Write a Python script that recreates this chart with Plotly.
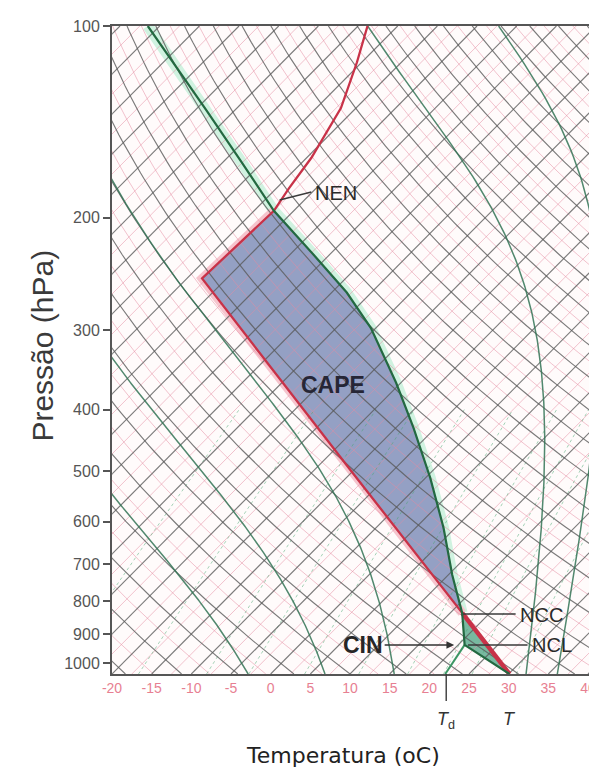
import numpy as np
import plotly.graph_objects as go

# ---------------- data ----------------
P_BOTTOM = 1040.0
P_TOP = 100.0
SKEW = 79.65  # degC per decade of pressure (45 degree isotherms)

x_tick_vals = [-20, -15, -10, -5, 0, 5, 10, 15, 20, 25, 30, 35, 40]
x_tick_text = ["-20", "-15", "-10", "-5", "0", "5", "10", "15", "20", "25", "30", "35", "40"]
y_tick_vals = [100, 200, 300, 400, 500, 600, 700, 800, 900, 1000]
y_tick_text = ["100", "200", "300", "400", "500", "600", "700", "800", "900", "1000"]

# environmental temperature profile
env_p = [1040, 834, 498, 249, 195, 180, 161, 134.5, 114, 100]
env_T = [30.1, 16.5, -15.4, -58.1, -57.5, -58.4, -59.4, -61.9, -65.6, -68.8]

# lifted parcel path (surface -> NCL -> NCC -> NEN -> top)
parcel_p = [1040, 936, 834, 727, 613, 512, 427, 363, 298, 262, 231, 209, 195, 164, 136, 100]
parcel_T = [30.1, 20.8, 16.5, 10.5, 3.5, -4.4, -12.8, -20.6, -30.6, -38.1, -46.3, -52.9, -57.5, -67.5, -78.4, -96.5]

surface_Td = 22.0
surface_T = 30.0

# reference lines of the diagram
isotherm_major = list(range(-110, 45, 5))
isotherm_minor = [t + 2.5 for t in range(-110, 45, 5)]
theta_major = list(range(238, 470, 7))
theta_minor = [t + 3.5 for t in range(238, 470, 7)]
moist_thetaw = [-5, 5, 14, 31, 35]
mixing_ratios = [0.4, 1, 2, 3, 5, 8, 12, 16, 20, 28]


# ---------------- helpers ----------------
def skx(T, p):
    return np.asarray(T, float) + SKEW * np.log10(P_BOTTOM / np.asarray(p, float))


plev = np.geomspace(P_BOTTOM, P_TOP, 120)


def join(lines):
    xs, ys = [], []
    for x, y in lines:
        xs += list(x) + [None]
        ys += list(y) + [None]
    return xs, ys


def isotherm_lines(vals):
    pp = np.array([P_BOTTOM, P_TOP])
    return join([(skx([t, t], pp), pp) for t in vals])


def dry_lines(vals):
    out = []
    for th in vals:
        T = th * (plev / 1000.0) ** 0.2857 - 273.15
        out.append((skx(T, plev), plev))
    return join(out)


def moist_path(tw):
    Rd, Cp, Lv, eps = 287.04, 1005.7, 2.501e6, 0.622

    def f(T, p):
        es = 6.112 * np.exp(17.67 * (T - 273.15) / (T - 29.65))
        rs = eps * es / (p - es)
        return (Rd * T + Lv * rs) / ((Cp + Lv * Lv * rs * eps / (Rd * T * T)) * p)

    def integrate(p0, p1, T0, n=300):
        ps = np.linspace(p0, p1, n)
        Ts = [T0]
        for i in range(n - 1):
            h = ps[i + 1] - ps[i]
            T, p = Ts[-1], ps[i]
            k1 = f(T, p)
            k2 = f(T + h * k1 / 2, p + h / 2)
            k3 = f(T + h * k2 / 2, p + h / 2)
            k4 = f(T + h * k3, p + h)
            Ts.append(T + h * (k1 + 2 * k2 + 2 * k3 + k4) / 6)
        return ps, np.array(Ts)

    T0 = tw + 273.15
    pu, Tu = integrate(1000.0, P_TOP, T0)
    pd, Td = integrate(1000.0, P_BOTTOM, T0, 20)
    p = np.concatenate([pd[::-1], pu[1:]])
    T = np.concatenate([Td[::-1], Tu[1:]]) - 273.15
    return skx(T, p), p


def mix_lines(vals):
    out = []
    pp = np.geomspace(P_BOTTOM, 400, 40)
    for w in vals:
        w = w / 1000.0
        e = w * pp / (0.622 + w)
        a = np.log(e / 6.112)
        T = 243.5 * a / (17.67 - a)
        out.append((skx(T, pp), pp))
    return join(out)


fig = go.Figure()

# bands under the soundings
fig.add_trace(go.Scatter(x=skx(parcel_T[2:], parcel_p[2:]), y=parcel_p[2:], mode="lines",
                         line=dict(color="rgb(208,242,224)", width=11), hoverinfo="skip"))
fig.add_trace(go.Scatter(x=skx(env_T[1:5], env_p[1:5]), y=env_p[1:5], mode="lines",
                         line=dict(color="rgb(246,196,205)", width=9), hoverinfo="skip"))

# CAPE area
cape_p = env_p[1:5] + parcel_p[2:13][::-1]
cape_T = env_T[1:5] + parcel_T[2:13][::-1]
fig.add_trace(go.Scatter(x=skx(cape_T, cape_p), y=cape_p, mode="lines", fill="toself",
                         fillcolor="rgb(148,160,196)", line=dict(width=0), hoverinfo="skip"))
# CIN area
cin_p = env_p[0:2] + parcel_p[0:3][::-1]
cin_T = env_T[0:2] + parcel_T[0:3][::-1]
fig.add_trace(go.Scatter(x=skx(cin_T, cin_p), y=cin_p, mode="lines", fill="toself",
                         fillcolor="rgb(120,185,160)", line=dict(width=0), hoverinfo="skip"))

# grid lines
for (xs, ys), col, w, dash in [
    (isotherm_lines(isotherm_minor), "rgba(228,140,160,0.65)", 0.8, "solid"),
    (dry_lines(theta_minor), "rgba(228,140,160,0.65)", 0.8, "solid"),
    (mix_lines(mixing_ratios), "rgba(70,165,110,0.55)", 0.9, "dot"),
    (isotherm_lines(isotherm_major), "rgba(90,90,90,0.8)", 1.15, "solid"),
    (dry_lines(theta_major), "rgba(90,90,90,0.8)", 1.15, "solid"),
]:
    fig.add_trace(go.Scatter(x=xs, y=ys, mode="lines", line=dict(color=col, width=w, dash=dash),
                             hoverinfo="skip"))

mx, my = join([moist_path(t) for t in moist_thetaw])
fig.add_trace(go.Scatter(x=mx, y=my, mode="lines", line=dict(color="rgba(50,115,85,0.85)", width=1.5),
                         hoverinfo="skip"))

# mixing ratio line from the surface dew point to the NCL
fig.add_trace(go.Scatter(x=skx([surface_Td, parcel_T[1]], [P_BOTTOM, parcel_p[1]]), y=[P_BOTTOM, parcel_p[1]],
                         mode="lines", line=dict(color="rgb(60,150,100)", width=2), hoverinfo="skip"))

# soundings
fig.add_trace(go.Scatter(x=skx(env_T, env_p), y=env_p, mode="lines",
                         line=dict(color="rgb(200,50,72)", width=2.3), hoverinfo="skip"))
fig.add_trace(go.Scatter(x=skx(env_T[0:2], env_p[0:2]), y=env_p[0:2], mode="lines",
                         line=dict(color="rgb(200,50,72)", width=4.5), hoverinfo="skip"))
fig.add_trace(go.Scatter(x=skx(parcel_T, parcel_p), y=parcel_p, mode="lines",
                         line=dict(color="rgb(35,105,65)", width=2.2), hoverinfo="skip"))


def px(x):
    return (x - 104) / 484.0


def py(y):
    return (666 - y) / 648.0


FONT = "Liberation Sans, Arial, sans-serif"
ann = []


def text(x, y, s, size, color="#333", xanchor="left", bold=False, angle=0, family=FONT):
    ann.append(dict(x=px(x), y=py(y), xref="paper", yref="paper", text=("<b>%s</b>" % s) if bold else s,
                    showarrow=False, xanchor=xanchor, yanchor="middle", textangle=angle,
                    font=dict(size=size, color=color, family=family)))


text(307, 185, "NEN", 20, "#2a2a2a")
text(327, 377, "CAPE", 23, "#262636", xanchor="center", bold=True)
text(513, 607, "NCC", 20, "#2a2a2a")
text(525, 637, "NCL", 20, "#2a2a2a")
text(441, 712, "<i>T</i><sub>d</sub>", 18, "#333", xanchor="center")
text(505, 711, "<i>T</i>", 18, "#333", xanchor="center")
text(33, 338, "Pressão (hPa)", 30, "#3a3a3a", xanchor="center", angle=-90)
text(337, 748, "Temperatura (oC)", 22, "#222", xanchor="center", family="DejaVu Sans, sans-serif")

# CIN label with its arrow
ann.append(dict(x=px(449), y=py(637), xref="paper", yref="paper", ax=-91, ay=0, text="<b>CIN</b>",
                showarrow=True, arrowhead=2, arrowsize=1.1, arrowwidth=1.4, arrowcolor="#333",
                standoff=0, font=dict(size=23, color="#262626", family=FONT)))

shapes = []
for (x0, y0, x1, y1) in [(273, 192, 305, 184), (458, 606, 511, 606), (463, 637, 523, 637), (441, 666, 441, 693)]:
    shapes.append(dict(type="line", xref="paper", yref="paper", x0=px(x0), y0=py(y0), x1=px(x1), y1=py(y1),
                       line=dict(color="#3a3a3a", width=1.4)))

fig.update_layout(
    width=597, height=774,
    margin=dict(l=104, r=9, t=18, b=108),
    paper_bgcolor="white", plot_bgcolor="#fffbfb",
    showlegend=False,
    annotations=ann, shapes=shapes,
    xaxis=dict(range=[-20, 40.5], tickvals=x_tick_vals, ticktext=x_tick_text,
               tickfont=dict(size=14, color="#e77f92", family=FONT), showgrid=False, zeroline=False,
               showline=True, mirror=True, linecolor="#555", linewidth=2, ticks=""),
    yaxis=dict(type="log", range=[np.log10(P_BOTTOM), np.log10(P_TOP)], tickvals=y_tick_vals,
               ticktext=y_tick_text, ticks="outside", ticklen=7, tickcolor="#555", tickwidth=1.5,
               tickfont=dict(size=16, color="#555", family=FONT), showgrid=False, zeroline=False,
               showline=True, mirror=True, linecolor="#555", linewidth=2),
)

fig.write_html("out.html")
